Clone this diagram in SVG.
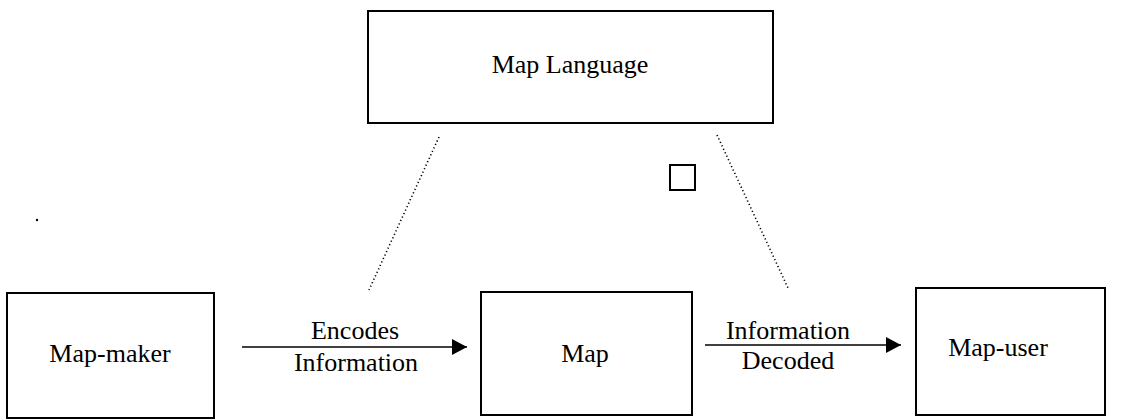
<svg xmlns="http://www.w3.org/2000/svg" width="1125" height="419" viewBox="0 0 1125 419">
  <defs>
    <marker id="arrowhead" markerWidth="16" markerHeight="16" refX="15" refY="8" orient="auto" markerUnits="userSpaceOnUse">
      <path d="M0,0 L15,8 L0,16 Z" fill="#000"/>
    </marker>
  </defs>
  <style>
    .box { fill: #fff; stroke: #000; stroke-width: 2; }
    .label { font-family: "Liberation Serif", "Times New Roman", serif; font-size: 26px; fill: #000; text-anchor: middle; }
    .flow { stroke: #000; stroke-width: 1.6; fill: none; }
    .dotted { stroke: #000; stroke-width: 1.6; stroke-dasharray: 1.2 2.6; fill: none; }
  </style>
  <rect width="1125" height="419" fill="#fff"/>

  <g id="map-language">
    <rect class="box" x="368" y="11" width="405" height="112"/>
    <text class="label" x="570" y="73">Map Language</text>
  </g>

  <g id="map-maker">
    <rect class="box" x="7" y="293" width="207" height="125"/>
    <text class="label" x="110" y="362">Map-maker</text>
  </g>

  <g id="map">
    <rect class="box" x="481" y="292" width="211" height="123"/>
    <text class="label" x="585" y="362">Map</text>
  </g>

  <g id="map-user">
    <rect class="box" x="916" y="288" width="189" height="127"/>
    <text class="label" x="998" y="356">Map-user</text>
  </g>

  <g id="small-square">
    <rect x="670" y="165" width="25" height="25" fill="#fff" stroke="#000" stroke-width="2"/>
  </g>

  <g id="speck">
    <circle cx="37" cy="220" r="1.2" fill="#000"/>
  </g>

  <g id="connectors">
    <line class="dotted" x1="439" y1="137" x2="369" y2="290"/>
    <line class="dotted" x1="717" y1="135" x2="788" y2="288"/>
    <line class="flow" x1="242" y1="347" x2="467" y2="347" marker-end="url(#arrowhead)"/>
    <text class="label" x="355" y="339">Encodes</text>
    <text class="label" x="356" y="371">Information</text>
    <line class="flow" x1="705" y1="345" x2="901" y2="345" marker-end="url(#arrowhead)"/>
    <text class="label" x="788" y="339">Information</text>
    <text class="label" x="788" y="369">Decoded</text>
  </g>
</svg>
